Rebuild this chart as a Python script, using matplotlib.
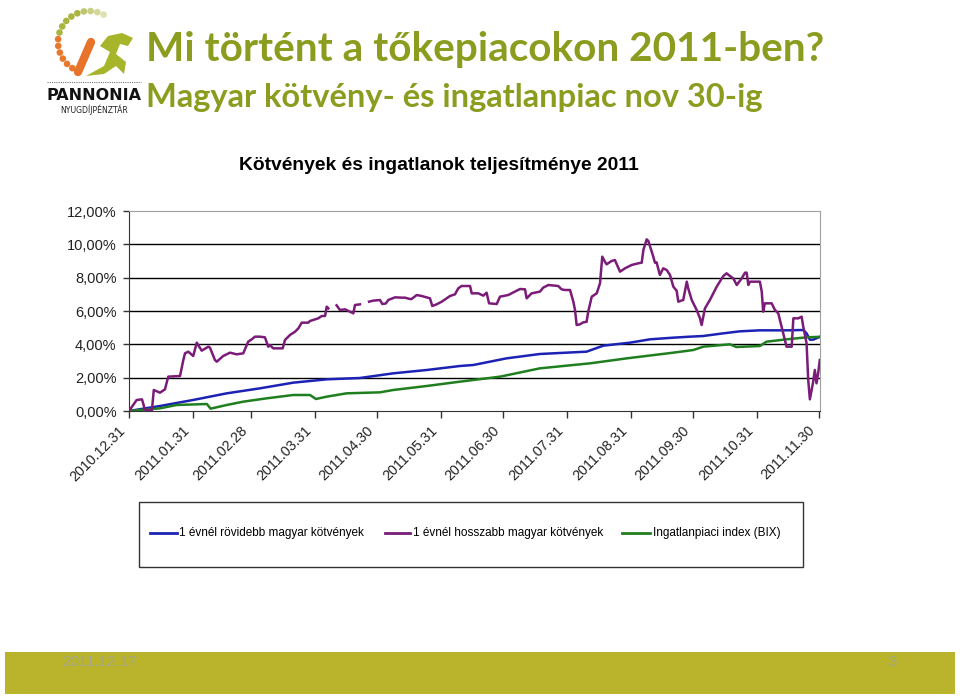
import numpy as np
import matplotlib
matplotlib.use("Agg")
import matplotlib.pyplot as plt
from matplotlib.patches import Rectangle, Circle, Polygon
from matplotlib.transforms import ScaledTranslation

# ---------------- data ----------------
title_main = "Mi történt a tőkepiacokon 2011-ben?"
title_sub = "Magyar kötvény- és ingatlanpiac nov 30-ig"
chart_title = "Kötvények és ingatlanok teljesítménye 2011"
series_names = ["1 évnél rövidebb magyar kötvények",
                "1 évnél hosszabb magyar kötvények",
                "Ingatlanpiaci index (BIX)"]
tick_days = [0, 31, 59, 90, 120, 151, 181, 212, 243, 273, 304, 334]
tick_labels = ["2010.12.31", "2011.01.31", "2011.02.28", "2011.03.31", "2011.04.30",
               "2011.05.31", "2011.06.30", "2011.07.31", "2011.08.31", "2011.09.30",
               "2011.10.31", "2011.11.30"]
y_ticks = [0, 2, 4, 6, 8, 10, 12]
footer_date = "2011.12.17"
footer_page = "3"

# days since 2010-12-31, values in %
short_days = [0, 15, 31, 47.3, 63.4, 79.5, 95.7, 111.8, 127.9, 144.1, 160.2, 166.7,
              182.8, 198.9, 221.5, 229.6, 242.5, 252.2, 263.5, 271.6, 278, 287.7,
              295.7, 305.4, 318.3, 326.4, 328, 329.6, 331.2, 334.4]
short_vals = [0, 0.3, 0.66, 1.06, 1.36, 1.7, 1.9, 1.98, 2.26, 2.46, 2.7, 2.76,
              3.16, 3.42, 3.56, 3.92, 4.1, 4.3, 4.4, 4.46, 4.5, 4.66,
              4.78, 4.84, 4.84, 4.86, 4.66, 4.28, 4.28, 4.45]

long_days = [0, 3.7, 6.3, 7.7, 11.1, 12.0, 15.0, 17.4, 19.0, 24.7, 26.3, 27.1, 28.7, 31.1,
             32.8, 35.2, 38.4, 39.2, 41.6, 42.5, 45.6, 48.9, 52.1, 55.3, 57.7, 59.4, 61.0,
             63.4, 65.8, 67.4, 68.2, 69.8, 74.4, 75.5, 77.9, 80.4, 82.0, 83.6, 86.8, 87.6,
             90.0, 91.6, 93.3, 94.9, 95.7, 96.5, 97.0, 100.5, 102.1, 104.6, 107.0, 108.6,
             109.4, 111.8, 112.5, 116.2, 118.2, 121.5, 122.6, 124.3, 125.5, 128.8, 132.0,
             133.6, 136.0, 136.8, 139.3, 141.7, 144.1, 145.7, 146.8, 148.9, 151.4, 153.8,
             155.4, 157.8, 159.4, 161.0, 165.1, 165.9, 169.1, 171.5, 173.1, 174.3, 178.0,
             179.6, 183.6, 186.8, 189.3, 191.7, 192.5, 194.9, 198.9, 200.5, 203.0, 207.8,
             209.4, 211.0, 213.5, 215.1, 215.9, 216.7, 218.3, 219.9, 221.5, 222.3, 224.0,
             226.4, 228.0, 229.1, 230.4, 231.2, 233.6, 235.2, 237.7, 240.1, 243.3, 246.5,
             248.2, 249.0, 250.6, 251.4, 253.8, 254.6, 255.4, 257.0, 258.6, 260.3, 261.9,
             263.5, 265.1, 265.9, 268.3, 270.0, 270.7, 272.4, 274.8, 276.4, 277.2, 278.8,
             281.2, 284.5, 287.7, 289.3, 290.9, 292.5, 294.2, 296.6, 298.2, 299.0, 299.8,
             300.6, 305.4, 306.3, 307.0, 307.8, 311.1, 312.7, 314.3, 316.7, 318.3, 320.8,
             321.6, 324.0, 325.6, 326.4, 328.0, 328.8, 329.6, 331.2, 332.0, 332.8, 333.6,
             334.4]
long_vals = [0, 0.66, 0.7, 0.08, 0.05, 1.26, 1.1, 1.3, 2.06, 2.1, 3.06, 3.46, 3.56, 3.3,
             4.1, 3.62, 3.86, 3.8, 3.06, 2.96, 3.3, 3.5, 3.4, 3.46, 4.16, 4.3, 4.46,
             4.46, 4.42, 3.86, 3.96, 3.76, 3.76, 4.26, 4.56, 4.76, 4.96, 5.3, 5.3, 5.4,
             5.5, 5.56, 5.7, 5.7, 6.26, 6.16, np.nan, 6.34, 6.06, 6.1, 5.96, 5.86,
             6.36, 6.4, np.nan, 6.56, 6.62, 6.66, 6.42, 6.45, 6.66, 6.82, 6.8,
             6.8, 6.72, 6.72, 6.96, 6.9, 6.82, 6.76, 6.3, 6.4, 6.56, 6.76,
             6.9, 7.0, 7.36, 7.5, 7.5, 7.06, 7.06, 6.92, 7.1, 6.46, 6.42,
             6.86, 6.96, 7.16, 7.32, 7.3, 6.76, 7.06, 7.16, 7.4, 7.56, 7.5,
             7.3, 7.26, 7.26, 6.56, 6.06, 5.16, 5.2, 5.32, 5.35, 5.96, 6.86,
             7.06, 7.66, 9.26, 8.96, 8.8, 9.0, 9.06, 8.36, 8.56, 8.76, 8.86,
             8.9, 9.66, 10.3, 10.2, 9.26, 8.9, 8.92, 8.16, 8.56, 8.46, 8.16,
             7.46, 7.22, 6.56, 6.66, 7.76, 7.36, 6.66, 6.06, 5.56, 5.16, 6.16,
             6.66, 7.46, 8.1, 8.26, 8.1, 7.96, 7.56, 7.96, 8.3, 8.3, 7.56,
             7.76, 7.76, 7.16, 5.96, 6.46, 6.46, 6.06, 5.86, 4.66, 3.86, 3.86,
             5.56, 5.56, 5.66, 5.06, 4.06, 1.86, 0.7, 1.76, 2.46, 1.66, 2.26,
             3.06]

bix_days = [0, 15, 23, 37.7, 39.5, 47.3, 55.3, 66.6, 79.5, 87.6, 90.5, 95.7, 105.3,
            121.5, 127.9, 144.1, 160.2, 179.6, 198.9, 223.2, 241, 263.5, 273.2, 278,
            290.9, 294, 305.4, 308.6, 318.3, 328, 334.4]
bix_vals = [0, 0.16, 0.36, 0.42, 0.14, 0.36, 0.56, 0.76, 0.96, 0.96, 0.72, 0.86, 1.06,
            1.12, 1.26, 1.5, 1.76, 2.06, 2.56, 2.86, 3.16, 3.5, 3.66, 3.86,
            4.0, 3.84, 3.9, 4.16, 4.3, 4.42, 4.45]

colors = ["#1c22b4", "#7a1c78", "#1f7f1f"]
olive = "#8c9c1e"

# ---------------- figure ----------------
W, H = 960, 696
fig = plt.figure(figsize=(W / 100, H / 100), dpi=100)
fig.patch.set_facecolor("white")

# overlay in pixel coordinates for slide decoration
deco = fig.add_axes([0, 0, 1, 1])
deco.set_xlim(0, W)
deco.set_ylim(H, 0)
deco.axis("off")

# footer band
deco.add_patch(Rectangle((5, 652), 950, 42, facecolor="#b9b42b", edgecolor="none"))
deco.text(62, 662, footer_date, color="#a6a68a", fontsize=10.8, family="Liberation Sans",
          va="center", ha="left")
deco.text(893, 662, footer_page, color="#a6a68a", fontsize=10.8, family="Liberation Sans",
          va="center", ha="center")

# logo (approximation)
cx, cy, r = 89, 42, 31
angles = np.linspace(62, 250, 16)
for i, a in enumerate(angles):
    px = cx + r * np.cos(np.radians(a))
    py = cy - r * np.sin(np.radians(a))
    if a < 110:
        c = ["#dfe0b0", "#d4d79a", "#c9cf84", "#bcc66a", "#b0bd55"][min(i, 4)]
    elif a < 170:
        c = "#a9b540"
    else:
        c = "#e8782c"
    deco.add_patch(Circle((px, py), 3.3, facecolor=c, edgecolor="none"))
deco.plot([78, 91], [72, 42], color="#e8732a", lw=6, solid_capstyle="round")
deco.add_patch(Polygon([(86, 76), (104, 66), (110, 52), (100, 46), (108, 36), (122, 33),
                        (133, 38), (128, 46), (120, 44), (116, 54), (126, 62), (124, 74),
                        (116, 66), (104, 74)], closed=True, facecolor="#a7b52a",
                       edgecolor="none"))
deco.plot([47, 141], [82, 82], color="#777777", lw=0.8, ls=(0, (1, 1)))
deco.text(94, 96, "PANNONIA", fontsize=11.5, weight="bold", family="DejaVu Sans",
          ha="center", va="center", color="#111111")
deco.text(94, 110, "NYUGDÍJPÉNZTÁR", fontsize=5.6, family="DejaVu Sans",
          ha="center", va="center", color="#222222")

# slide titles
deco.text(146, 61, title_main, fontsize=29.2, weight="bold", family="Lato", color=olive,
          ha="left", va="baseline")
deco.text(146, 107, title_sub, fontsize=23.5, weight="bold", family="Lato", color=olive,
          ha="left", va="baseline")

# chart title
deco.text(439, 165, chart_title, fontsize=13.9, weight="bold", family="Liberation Sans",
          color="black", ha="center", va="center")

# legend box
deco.add_patch(Rectangle((139, 502), 664, 65, facecolor="white", edgecolor="#333333", lw=1))
leg_items = [(150, 177, 179), (385, 410, 413), (622, 650, 653)]
for (x0, x1, xt), name, col in zip(leg_items, series_names, colors):
    deco.plot([x0, x1], [533, 533], color=col, lw=2)
    deco.text(xt, 533, name, fontsize=8.5, family="Liberation Sans", ha="left", va="center",
              color="black")

# main chart axes
ax = fig.add_axes([129 / W, 1 - 411 / H, (820 - 129) / W, 200 / H])
ax.set_zorder(2)
ax.patch.set_facecolor("white")
ax.plot(short_days, short_vals, color=colors[0], lw=1.8, zorder=3)
ax.plot(bix_days, bix_vals, color=colors[2], lw=1.8, zorder=3)
ax.plot(long_days, long_vals, color=colors[1], lw=1.8, zorder=4)

ax.set_xlim(0, 334.5)
ax.set_ylim(0, 12)
for y in y_ticks[1:-1]:
    ax.axhline(y, color="black", lw=1, zorder=1)
ax.spines["top"].set_color("#a0a0a0")
ax.spines["right"].set_color("#a0a0a0")
ax.spines["left"].set_color("#333333")
ax.spines["bottom"].set_color("#333333")
ax.tick_params(axis="x", direction="out", length=5, width=1, color="#333333", pad=4)
ax.tick_params(axis="y", direction="out", length=4, width=1, color="#333333", pad=5)

ax.set_yticks(y_ticks)
ax.set_yticklabels([f"{v:.2f}%".replace(".", ",") for v in y_ticks],
                   fontsize=10.5, family="Liberation Sans", color="#222222")
ax.set_xticks(tick_days)
ax.set_xticklabels(tick_labels, rotation=45, ha="right", va="center", rotation_mode="anchor",
                   fontsize=10.3, family="Liberation Sans", color="#222222")
off = ScaledTranslation(-0.06, -0.05, fig.dpi_scale_trans)
for lab in ax.get_xticklabels():
    lab.set_transform(lab.get_transform() + off)

fig.savefig("out.png", dpi=100, facecolor="white")
